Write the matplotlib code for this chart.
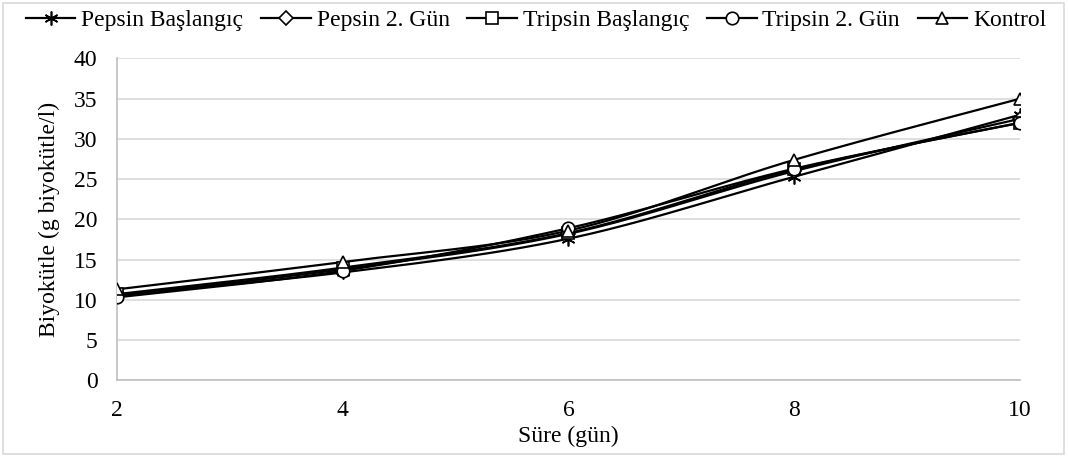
import numpy as np
import matplotlib
matplotlib.use("Agg")
import matplotlib.pyplot as plt
from matplotlib.patches import Rectangle
from matplotlib.lines import Line2D

plt.rcParams['font.family'] = ['Liberation Serif', 'DejaVu Serif']

days = [2, 4, 6, 8, 10]
pepsin_start = [10.6, 13.4, 17.6, 25.3, 33.0]
pepsin_day2 = [10.5, 13.8, 18.2, 26.0, 32.5]
tripsin_start = [10.7, 14.0, 18.3, 26.2, 32.0]
tripsin_day2 = [10.3, 13.6, 18.9, 26.3, 32.0]
kontrol = [11.3, 14.7, 18.6, 27.4, 35.0]

series_names = ["Pepsin Başlangıç", "Pepsin 2. Gün", "Tripsin Başlangıç",
                "Tripsin 2. Gün", "Kontrol"]
series_values = [pepsin_start, pepsin_day2, tripsin_start, tripsin_day2, kontrol]
markers = [(6, 2, 0), "D", "s", "o", "^"]
msizes = [10, 7.5, 9, 9, 9]

FS = 17


def smooth(x, y, n=40):
    """Catmull-Rom style smoothing through the given points."""
    x = np.asarray(x, float)
    y = np.asarray(y, float)
    px = np.concatenate([[x[0]], x, [x[-1]]])
    py = np.concatenate([[y[0]], y, [y[-1]]])
    xs, ys = [], []
    for i in range(1, len(px) - 2):
        p0 = np.array([px[i], py[i]])
        p3 = np.array([px[i + 1], py[i + 1]])
        c1 = p0 + (np.array([px[i + 1], py[i + 1]]) - np.array([px[i - 1], py[i - 1]])) / 6
        c2 = p3 - (np.array([px[i + 2], py[i + 2]]) - np.array([px[i], py[i]])) / 6
        t = np.linspace(0, 1, n)[:, None]
        b = ((1 - t) ** 3) * p0 + 3 * ((1 - t) ** 2) * t * c1 + 3 * (1 - t) * t ** 2 * c2 + t ** 3 * p3
        xs.append(b[:, 0])
        ys.append(b[:, 1])
    return np.concatenate(xs), np.concatenate(ys)


fig = plt.figure(figsize=(10.68, 4.57), dpi=100)
ax = fig.add_axes([0.1095, 0.168, 0.8455, 0.704])

handles = []
for name, vals, m, ms in zip(series_names, series_values, markers, msizes):
    sx, sy = smooth(days, vals)
    ax.plot(sx, sy, color="black", lw=1.6, zorder=3)
    ax.plot(days, vals, linestyle="none", marker=m, markersize=ms,
            markerfacecolor="white", markeredgecolor="black",
            markeredgewidth=1.2, zorder=4)
    handles.append(Line2D([0], [0], color="black", lw=1.6, marker=m,
                          markersize=ms, markerfacecolor="white",
                          markeredgecolor="black", markeredgewidth=1.2,
                          label=name))

ax.set_xlim(2, 10)
ax.set_ylim(0, 40)
ax.set_xticks(days)
ax.set_yticks(np.arange(0, 41, 5))
ax.tick_params(axis="both", labelsize=FS, length=0)
ax.tick_params(axis="y", pad=14)
ax.tick_params(axis="x", pad=14)
ax.grid(axis="y", color="#d9d9d9", lw=1.2)
ax.set_axisbelow(True)
for s in ["top", "right"]:
    ax.spines[s].set_visible(False)
for s in ["left", "bottom"]:
    ax.spines[s].set_color("#bfbfbf")
    ax.spines[s].set_linewidth(1.2)

ax.set_xlabel("Süre (gün)", fontsize=FS, labelpad=4)
ax.set_ylabel("Biyokütle (g biyokütle/l)", fontsize=FS, labelpad=10)

fig.legend(handles=handles, loc="center", bbox_to_anchor=(0.502, 0.955),
           ncol=5, frameon=False, fontsize=FS, handlelength=2.1,
           columnspacing=0.75, handletextpad=0.25, borderpad=0)

fig.patches.append(Rectangle((0.003, 0.006), 0.993, 0.988,
                             transform=fig.transFigure, fill=False,
                             edgecolor="#d9d9d9", lw=1.2))

fig.savefig("out.png", dpi=100)
